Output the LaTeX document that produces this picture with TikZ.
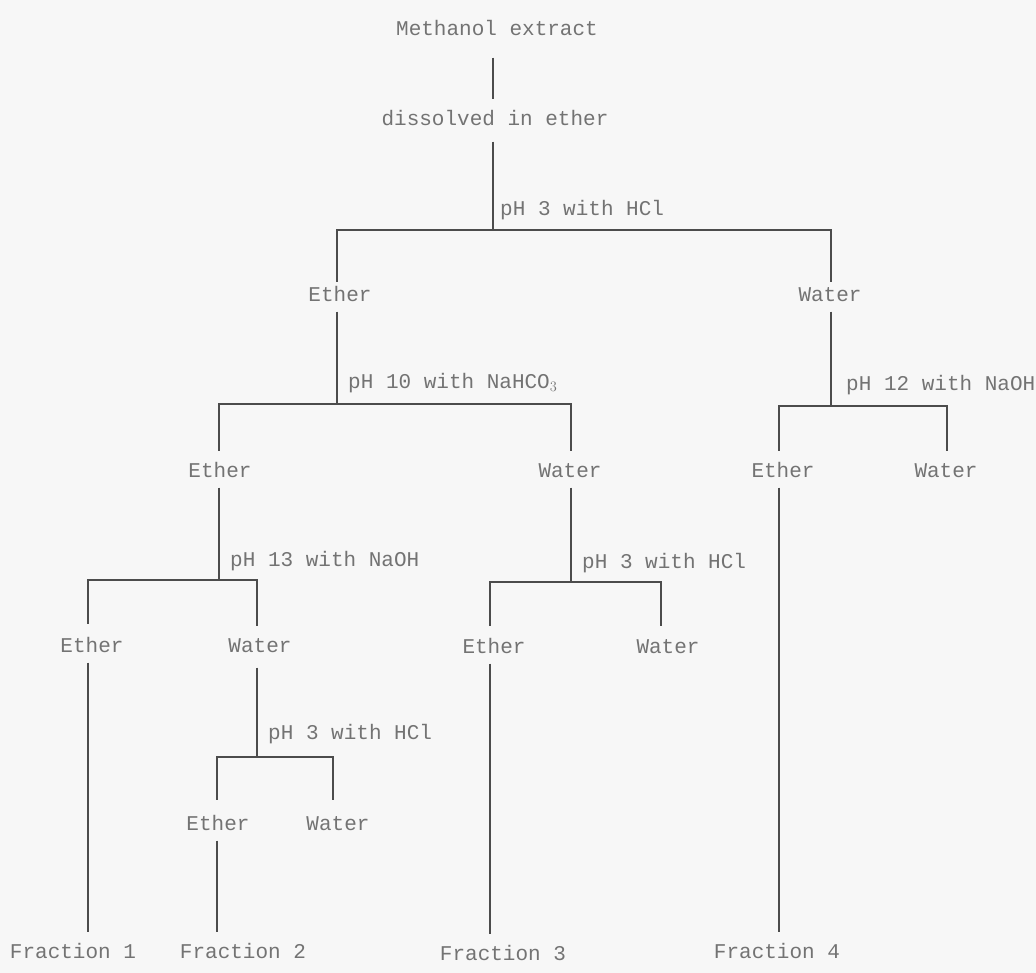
\documentclass[tikz,border=0pt]{standalone}
\usepackage{fontspec}
\setmonofont{Liberation Mono}
\begin{document}
\begin{tikzpicture}[x=1pt,y=-1pt,
  lbl/.style={font=\ttfamily\fontsize{21}{24}\selectfont, text=black!55,
    inner sep=2pt, text height=15pt, text depth=4pt},
  cond/.style={lbl, anchor=west},
  ln/.style={draw=black!70, line width=1.4pt},
  down/.style={ln, shorten <=4pt, shorten >=9pt},
  branch/.style={ln, shorten >=9pt}]
\useasboundingbox (0,0) rectangle (1036,973);
\fill[black!3] (0,0) rectangle (1036,973);
\clip (0,0) rectangle (1036,973);

% nodes
\node[lbl] (me) at (497,30) {Methanol extract};
\node[lbl] (de) at (495,120) {dissolved in ether};
\node[cond] (c1) at (498,210) {pH 3 with HCl};
\node[lbl] (e1) at (340,296) {Ether};
\node[lbl] (w1) at (830,296) {Water};
\node[cond] (c2) at (346,383) {pH 10 with NaHCO$_3$};
\node[cond] (c3) at (844,385) {pH 12 with NaOH};
\node[lbl] (e2) at (220,472) {Ether};
\node[lbl] (w2) at (570,472) {Water};
\node[lbl] (e3) at (783,472) {Ether};
\node[lbl] (w3) at (946,472) {Water};
\node[cond] (c4) at (228,561) {pH 13 with NaOH};
\node[cond] (c5) at (580,563) {pH 3 with HCl};
\node[lbl] (e4) at (92,647) {Ether};
\node[lbl] (w4) at (260,647) {Water};
\node[lbl] (e5) at (494,648) {Ether};
\node[lbl] (w5) at (668,648) {Water};
\node[cond] (c6) at (266,734) {pH 3 with HCl};
\node[lbl] (e6) at (218,825) {Ether};
\node[lbl] (w6) at (338,825) {Water};
\node[lbl] (f1) at (73,953) {Fraction 1};
\node[lbl] (f2) at (243,953) {Fraction 2};
\node[lbl] (f3) at (503,955) {Fraction 3};
\node[lbl] (f4) at (777,953) {Fraction 4};

% vertical line positions under each node
\coordinate (xde) at (493,0);
\coordinate (xe1) at (337,0);
\coordinate (xw1) at (831,0);
\coordinate (xe2) at (219,0);
\coordinate (xw2) at (571,0);
\coordinate (xe3) at (779,0);
\coordinate (xw3) at (947,0);
\coordinate (xe4) at (88,0);
\coordinate (xw4) at (257,0);
\coordinate (xe5) at (490,0);
\coordinate (xw5) at (661,0);
\coordinate (xe6) at (217,0);
\coordinate (xw6) at (333,0);

% junctions
\coordinate (j1) at (xde |- 0,230);
\coordinate (j2) at (xe1 |- 0,404);
\coordinate (j3) at (xw1 |- 0,406);
\coordinate (j4) at (xe2 |- 0,580);
\coordinate (j5) at (xw2 |- 0,582);
\coordinate (j6) at (xw4 |- 0,757);

% connectors
\draw[ln, shorten <=16pt, shorten >=9pt] (me.south -| xde) -- (de.north -| xde);
\draw[ln, shorten <=10pt] (de.south -| xde) -- (j1);
\draw[ln, shorten >=2pt] (j1) -| (e1.north -| xe1);
\draw[ln, shorten >=2pt] (j1) -| (w1.north -| xw1);
\draw[ln, shorten <=4pt] (e1.south -| xe1) -- (j2);
\draw[branch] (j2) -| (e2.north -| xe2);
\draw[branch] (j2) -| (w2.north -| xw2);
\draw[ln, shorten <=4pt] (w1.south -| xw1) -- (j3);
\draw[branch] (j3) -| (e3.north -| xe3);
\draw[branch] (j3) -| (w3.north -| xw3);
\draw[ln, shorten <=4pt] (e2.south -| xe2) -- (j4);
\draw[ln, shorten >=11pt] (j4) -| (e4.north -| xe4);
\draw[branch] (j4) -| (w4.north -| xw4);
\draw[ln, shorten <=4pt] (w2.south -| xw2) -- (j5);
\draw[ln, shorten >=10pt] (j5) -| (e5.north -| xe5);
\draw[ln, shorten >=10pt] (j5) -| (w5.north -| xw5);
\draw[ln, shorten <=9pt] (w4.south -| xw4) -- (j6);
\draw[ln, shorten >=13pt] (j6) -| (e6.north -| xe6);
\draw[ln, shorten >=13pt] (j6) -| (w6.north -| xw6);
\draw[down] (e4.south -| xe4) -- (f1.north -| xe4);
\draw[down] (e6.south -| xe6) -- (f2.north -| xe6);
\draw[down] (e5.south -| xe5) -- (f3.north -| xe5);
\draw[down] (e3.south -| xe3) -- (f4.north -| xe3);
\end{tikzpicture}
\end{document}
